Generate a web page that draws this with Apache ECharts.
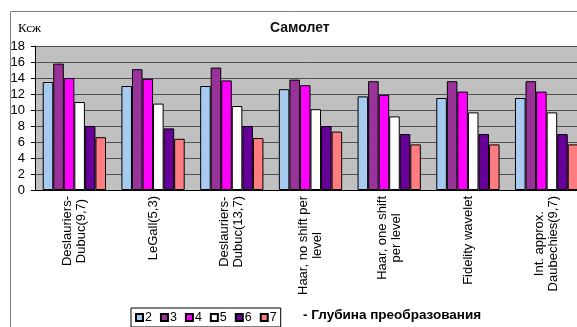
<!DOCTYPE html>
<html>
<head>
<meta charset="utf-8">
<script src="https://cdn.jsdelivr.net/npm/echarts@6/dist/echarts.min.js"></script>
<style>
  html, body { margin: 0; padding: 0; background: #fff; }
  #chart { width: 577px; height: 327px; }
</style>
</head>
<body>
<div id="chart"></div>
<script>
// categories (wavelet filters)
const categories = [
  'Deslauriers-\nDubuc(9,7)',
  'LeGall(5,3)',
  'Deslauriers-\nDubuc(13,7)',
  'Haar, no shift per\nlevel',
  'Haar, one shift\nper level',
  'Fidelity wavelet',
  'Int. approx.\nDaubechies(9,7)'
];
// series names = transform depth
const depths = ['2', '3', '4', '5', '6', '7'];
const depth2 = [13.5, 13.0, 13.0, 12.6, 11.7, 11.5, 11.5];
const depth3 = [15.8, 15.1, 15.3, 13.8, 13.6, 13.6, 13.6];
const depth4 = [14.0, 13.9, 13.7, 13.1, 11.9, 12.3, 12.3];
const depth5 = [11.0, 10.8, 10.5, 10.1, 9.2, 9.7, 9.7];
const depth6 = [8.0, 7.7, 8.0, 8.0, 7.0, 7.0, 7.0];
const depth7 = [6.6, 6.4, 6.5, 7.3, 5.7, 5.7, 5.7];
const values = [depth2, depth3, depth4, depth5, depth6, depth7];
const colors = ['#A6CAF0', '#993399', '#FF00FF', '#FFFFFF', '#660099', '#FF7C80'];

let chart = echarts.init(document.getElementById('chart'));

chart.setOption({
  animation: false,
  textStyle: { fontFamily: 'Liberation Sans, Arial, sans-serif', color: '#000' },
  title: [
    {
      text: 'Самолет',
      left: 265,
      top: 16,
      textStyle: { fontSize: 14, fontWeight: 'bold', color: '#111', fontFamily: 'Liberation Sans, Arial' }
    },
    {
      text: 'Ксж',
      left: 13,
      top: 17,
      textStyle: { fontSize: 13, fontWeight: 'normal', color: '#000', fontFamily: 'Liberation Serif, Times New Roman, serif' }
    }
  ],
  graphic: [
    {
      type: 'rect',
      shape: { x: 10.5, y: 11.5, width: 600, height: 400 },
      style: { fill: 'none', stroke: '#808080', lineWidth: 1 },
      silent: true
    },
    {
      type: 'text',
      left: 303,
      top: 308,
      style: {
        text: '- Глубина преобразования',
        font: 'bold 13.5px Liberation Sans, Arial, sans-serif',
        fill: '#000'
      }
    }
  ],
  legend: {
    left: 131,
    top: 308,
    orient: 'horizontal',
    icon: 'rect',
    itemWidth: 7,
    itemHeight: 7,
    itemGap: 8,
    padding: [3, 4],
    borderColor: '#000',
    borderWidth: 1,
    textStyle: { fontSize: 12.5, color: '#000', padding: [0, 0, 0, -3] },
    data: depths
  },
  grid: {
    left: 35,
    top: 46,
    right: -9,
    height: 144,
    show: true,
    backgroundColor: '#C0C0C0',
    borderWidth: 0,
    outerBoundsMode: 'none'
  },
  xAxis: {
    type: 'category',
    data: categories,
    axisLine: { lineStyle: { color: '#000', width: 1 } },
    axisTick: { length: 5, lineStyle: { color: '#000' } },
    axisLabel: {
      interval: 0,
      rotate: 90,
      margin: 6,
      color: '#000',
      fontSize: 13,
      formatter: function (v) {
        return v.split('\n').map(function (l) { return '{c|' + l + '}'; }).join('\n');
      },
      rich: {
        c: { align: 'center', fontSize: 13, color: '#000', lineHeight: 14 }
      }
    }
  },
  yAxis: {
    type: 'value',
    min: 0,
    max: 18,
    interval: 2,
    axisLine: { show: true, lineStyle: { color: '#000', width: 1 } },
    axisTick: { show: true, length: 4, lineStyle: { color: '#000' } },
    axisLabel: { color: '#000', fontSize: 13, margin: 10 },
    splitLine: { lineStyle: { color: '#505050', width: 1 } }
  },
  series: depths.map(function (name, i) {
    return {
      name: name,
      type: 'bar',
      data: values[i],
      barGap: '0%',
      barCategoryGap: '19.6%',
      itemStyle: { color: colors[i], borderColor: '#000', borderWidth: 1 }
    };
  })
});
</script>
</body>
</html>
